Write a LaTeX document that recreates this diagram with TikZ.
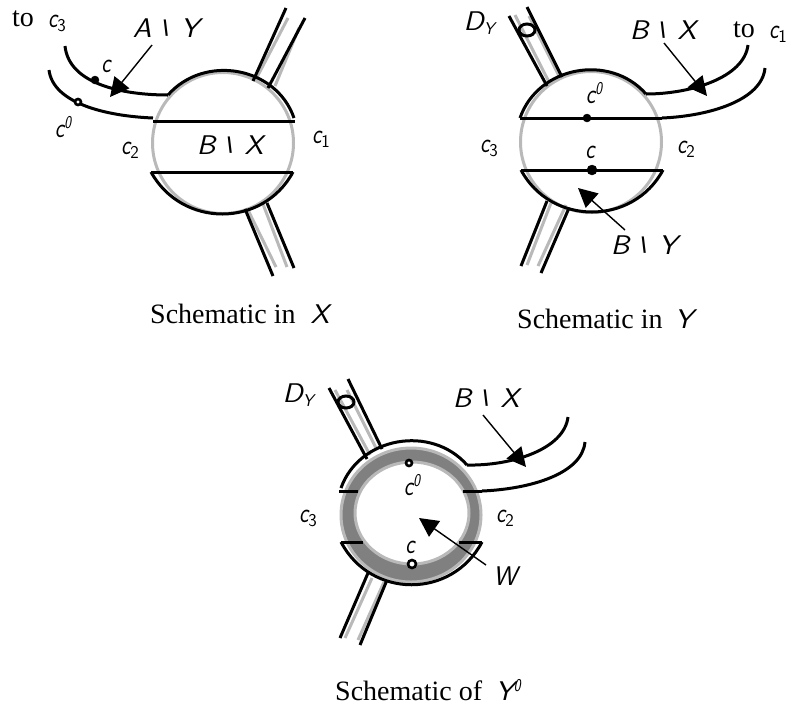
\documentclass[tikz,border=0pt]{standalone}
\usepackage{fontspec}
\usepackage{graphicx}
\usetikzlibrary{arrows.meta,shapes.geometric}
\newfontfamily\serifcap{Liberation Serif}
\newfontfamily\bsfont{DejaVu Sans}
\newcommand{\cnd}[1]{\scalebox{.8}[1]{#1}}
\newcommand{\wdr}[1]{\scalebox{1.1}[1]{#1}}
\newcommand{\csub}[1]{\cnd{c}\raisebox{-4pt}{\fontsize{18}{18}\selectfont\upshape #1}}
\newcommand{\csup}{\cnd{c}\raisebox{9pt}{\fontsize{18}{18}\selectfont\cnd{0}}}
\newcommand{\bsl}{\hspace{11pt}\raisebox{2.6pt}{\bsfont\bfseries\fontsize{20}{20}\selectfont\textbackslash}\hspace{11pt}}
\newcommand{\dsub}{\wdr{D}\raisebox{-4pt}{\fontsize{17}{17}\selectfont Y}}
\definecolor{lightline}{RGB}{185,185,185}
\definecolor{darkband}{RGB}{128,128,128}
\tikzset{
  blk/.style={black,line width=3pt,line cap=butt},
  gry/.style={color=lightline,line width=3pt},
  callout/.style={black,line width=1.4pt,-{Triangle[length=19pt,width=19pt]}},
  dotfill/.style={circle,fill=black,draw=black,inner sep=0pt},
  dotring/.style={circle,fill=white,draw=black,line width=2.6pt,inner sep=0pt},
  big/.style={font=\fontsize{27}{27}\selectfont\sffamily\itshape,inner sep=0pt,anchor=base},
  small/.style={font=\fontsize{28}{28}\selectfont\sffamily\itshape,inner sep=0pt,anchor=base},
  capt/.style={font=\fontsize{28}{28}\selectfont\serifcap,inner sep=0pt,anchor=base west},
  tolabel/.style={font=\fontsize{28}{28}\selectfont\serifcap,inner sep=0pt,anchor=base west},
  ringmark/.style={black,line width=3pt}
}
\begin{document}
\begin{tikzpicture}[x=1pt,y=-1pt]
\useasboundingbox (0,0) rectangle (789,705);
% ---------- Panel X
\node[circle,draw=lightline,line width=3pt,minimum size=141pt,inner sep=0pt] (cx) at (223,143) {};
\draw[gry] (255,81) -- (288,18);
\draw[gry] (275,86) -- (299,28);
\draw[gry] (248,210) -- (276,267);
\draw[gry] (263,204) -- (287,267);
\draw[blk] (253,81) -- (286,8);
\draw[blk] (268,88) -- (305,18);
\draw[blk] (245,209) -- (273,276);
\draw[blk] (267,203) -- (294,268);
\coordinate (xa) at (168,95);
\coordinate (xb) at (294,118);
\coordinate (xl) at (153,121);
\coordinate (xr) at (295,121);
\coordinate (xp) at (151,172);
\coordinate (xq) at (293,172);
\coordinate (xe1) at (65,46);
\coordinate (xe2) at (49,70);
\draw[blk] (xa) .. controls (204,54) and (276,66) .. (xb);
\draw[blk] (xl) -- (xr);
\draw[blk] (xp) -- (xq);
\draw[blk] (xp) .. controls (182,228) and (263,228) .. (xq);
\draw[blk] (xa) .. controls (125,95) and (69,85) .. (xe1);
\draw[blk] (153,118) .. controls (105,116) and (53,103) .. (xe2);
\node[dotfill,minimum size=8pt] (xc) at (95,80) {};
\node[dotring,minimum size=6pt] (xcp) at (78,102) {};
\node[tolabel] (xto) at (12,26) {to};
\node[small] (xc3) at (57,27) {\csub{3}};
\coordinate (xat) at (110,97);
\node[big] (xay) at (166,37) {\wdr{A}\bsl\wdr{Y}};
\coordinate (xas) at (152,45);
\draw[callout] (xas) -- (xat);
\node[small] (xcl) at (106,72) {\cnd{c}};
\node[small] (xcpl) at (63,137) {\csup};
\node[big] (xbx) at (230,154) {\wdr{B}\bsl\wdr{X}};
\node[small] (xc1) at (321,143) {\csub{1}};
\node[small] (xc2) at (130,154) {\csub{2}};
\node[capt] (xcap) at (150,323) {Schematic in};
\node[big] (xcapx) at (320,323) {\wdr{X}};
% ---------- Panel Y
\node[circle,draw=lightline,line width=3pt,minimum size=141pt,inner sep=0pt] (cy) at (591,142) {};
\draw[gry] (515,15) -- (550,84);
\draw[gry] (529,16) -- (560,78);
\draw[gry] (527,265) -- (551,203);
\draw[gry] (538,266) -- (566,205);
\draw[blk] (509,16) -- (547,86);
\draw[blk] (527,7) -- (562,77);
\draw[blk] (521,266) -- (547,201);
\draw[blk] (541,273) -- (569,208);
\coordinate (ya) at (646,94);
\coordinate (yb) at (520,118);
\coordinate (yr) at (662,118);
\coordinate (yp) at (521,170);
\coordinate (yq) at (663,170);
\coordinate (ye1) at (748,45);
\coordinate (ye2) at (765,68);
\draw[blk] (ya) .. controls (690,94) and (744,78) .. (ye1);
\draw[blk] (yr) .. controls (710,116) and (762,100) .. (ye2);
\draw[blk] (ya) .. controls (610,53) and (538,66) .. (yb);
\draw[blk] (yb) -- (yr);
\draw[blk] (yp) -- (yq);
\draw[blk] (yp) .. controls (551,226) and (633,226) .. (yq);
\node[dotfill,minimum size=8pt] (yd1) at (587,118) {};
\node[dotfill,minimum size=10pt] (yd2) at (592,170) {};
\draw[ringmark] (527,30) ellipse [x radius=8,y radius=6];
\node[big] (ydy) at (479,30) {\dsub};
\coordinate (ybxs) at (664,43);
\coordinate (ybxt) at (707,96);
\draw[callout] (ybxs) -- (ybxt);
\node[big] (ybx) at (663,39) {\wdr{B}\bsl\wdr{X}};
\node[tolabel] (yto) at (733,37) {to};
\node[small] (ytc) at (778,38) {\csub{1}};
\coordinate (ybys) at (625,230);
\coordinate (ybyt) at (578,188);
\draw[callout] (ybys) -- (ybyt);
\node[big] (yby) at (644,254) {\wdr{B}\bsl\wdr{Y}};
\node[small] (ycp) at (594,103) {\csup};
\node[small] (ycc) at (590,158) {\cnd{c}};
\node[capt] (ycap) at (517,328) {Schematic in};
\node[big] (ycapy) at (684,328) {\wdr{Y}};
\node[small] (yc3) at (489,152) {\csub{3}};
\node[small] (yc2) at (686,153) {\csub{2}};
% ---------- Panel Y prime
\fill[darkband] (411,515) ellipse [x radius=71,y radius=67];
\draw[gry] (411,515) ellipse [x radius=70,y radius=67];
\fill[white] (412,513) ellipse [x radius=57,y radius=51];
\draw[gry] (412,513) ellipse [x radius=57,y radius=51];
\draw[gry] (335,390) -- (370,455);
\draw[gry] (347,390) -- (377,450);
\draw[gry] (345,638) -- (372,578);
\draw[gry] (358,640) -- (384,582);
\draw[blk] (329,388) -- (367,459);
\draw[blk] (348,379) -- (382,449);
\draw[blk] (340,638) -- (368,573);
\draw[blk] (360,645) -- (387,580);
\coordinate (za) at (467,465);
\coordinate (zb) at (341,488);
\coordinate (zl1) at (339,491);
\coordinate (zl2) at (358,491);
\coordinate (zr1) at (463,491);
\coordinate (zr2) at (482,491);
\coordinate (zp1) at (341,542);
\coordinate (zp2) at (363,542);
\coordinate (zq1) at (459,542);
\coordinate (zq2) at (482,542);
\coordinate (ze1) at (568,417);
\coordinate (ze2) at (585,442);
\draw[blk] (za) .. controls (431,424) and (359,437) .. (zb);
\draw[blk] (zl1) -- (zl2);
\draw[blk] (zr1) -- (zr2);
\draw[blk] (zp1) -- (zp2);
\draw[blk] (zq1) -- (zq2);
\draw[blk] (zp1) .. controls (371,599) and (452,599) .. (zq2);
\draw[blk] (za) .. controls (510,466) and (564,450) .. (ze1);
\draw[blk] (zr2) .. controls (530,489) and (582,474) .. (ze2);
\node[dotring,minimum size=6pt] (zd1) at (409,463) {};
\node[dotring,minimum size=8pt] (zd2) at (412,564) {};
\draw[ringmark] (346,402) ellipse [x radius=8,y radius=6];
\node[big] (zdy) at (298,402) {\dsub};
\coordinate (zbxs) at (483,415);
\coordinate (zbxt) at (526,467);
\draw[callout] (zbxs) -- (zbxt);
\node[big] (zbx) at (486,407) {\wdr{B}\bsl\wdr{X}};
\coordinate (zws) at (486,565);
\coordinate (zwt) at (419,518);
\draw[callout] (zws) -- (zwt);
\node[big] (zw) at (505,585) {W};
\node[small] (zc3) at (308,522) {\csub{3}};
\node[small] (zc2) at (505,522) {\csub{2}};
\node[small] (zcp) at (412,495) {\csup};
\node[small] (zcc) at (410,553) {\cnd{c}};
\node[capt] (zcap) at (335,700) {Schematic of};
\node[big] (zcapy) at (508,700) {\wdr{Y}\raisebox{9pt}{\fontsize{18}{18}\selectfont\cnd{0}}};
\end{tikzpicture}
\end{document}
